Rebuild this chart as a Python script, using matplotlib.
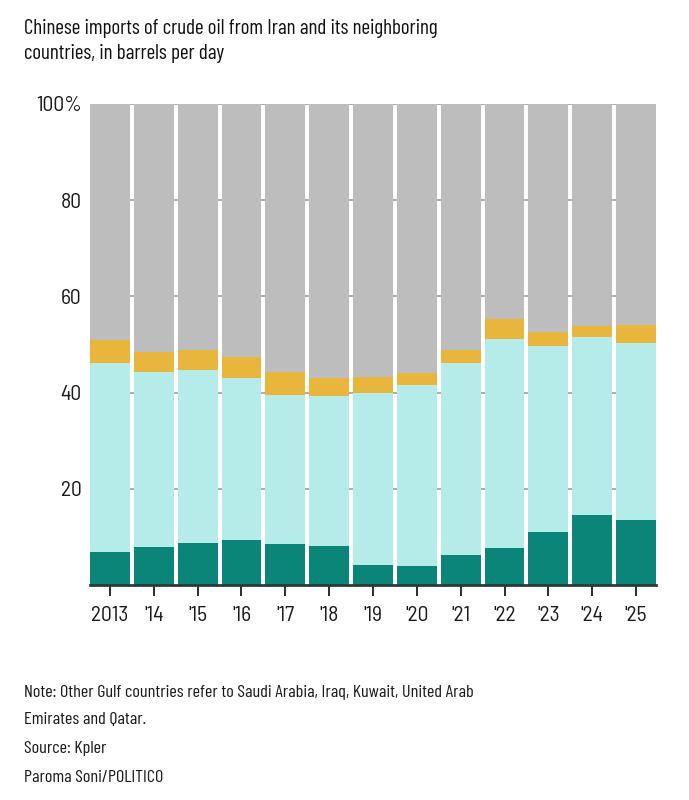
import numpy as np
import matplotlib
matplotlib.use('Agg')
import matplotlib.pyplot as plt

plt.rcParams['font.family'] = ['Barlow Semi Condensed', 'Roboto Condensed', 'DejaVu Sans']
cond = ['Barlow Condensed', 'Roboto Condensed', 'DejaVu Sans']

# shares in percent (cumulative tops converted to segments)
years = ['2013', "'14", "'15", "'16", "'17", "'18", "'19", "'20", "'21", "'22", "'23", "'24", "'25"]
iran = [6.8, 7.8, 8.7, 9.4, 8.6, 8.2, 4.2, 3.9, 6.3, 7.7, 11.1, 14.5, 13.6]
gulf_top = [46.2, 44.2, 44.6, 43.0, 39.5, 39.3, 39.9, 41.6, 46.1, 51.2, 49.6, 51.5, 50.3]
yellow_top = [50.9, 48.5, 48.9, 47.5, 44.3, 43.0, 43.2, 44.0, 48.9, 55.2, 52.7, 53.9, 54.1]

iran = np.array(iran)
gulf = np.array(gulf_top) - iran
yellow = np.array(yellow_top) - np.array(gulf_top)
rest = 100 - np.array(yellow_top)

fig = plt.figure(figsize=(6.89, 8.0), dpi=100)
ax = fig.add_axes([90 / 689, 1 - 585 / 800, (656 - 90) / 689, (585 - 104) / 800])

x = np.arange(len(years))
w = 0.91
ax.bar(x, iran, w, color='#0b8577', zorder=3)
ax.bar(x, gulf, w, bottom=iran, color='#b5ebe9', zorder=3)
ax.bar(x, yellow, w, bottom=iran + gulf, color='#e8b63c', zorder=3)
ax.bar(x, rest, w, bottom=iran + gulf + yellow, color='#bdbdbd', zorder=3)

ax.set_xlim(-w / 2, len(years) - 1 + w / 2)
ax.set_ylim(0, 100)
for v in [20, 40, 60, 80, 100]:
    ax.axhline(v, color='#a0a0a0', lw=1.2, zorder=1)

ax.set_yticks([0, 20, 40, 60, 80, 100])
ax.set_yticklabels(['', '20', '40', '60', '80', '100%'])
ax.set_xticks(x)
ax.set_xticklabels(years)
ax.tick_params(axis='y', length=0, pad=6, labelsize=15.5, colors='#1a1a1a')
ax.tick_params(axis='x', length=8, width=1.3, pad=7, labelsize=15.5, colors='#1a1a1a')

for s in ['top', 'right', 'left']:
    ax.spines[s].set_visible(False)
ax.spines['bottom'].set_color('#2a3a38')
ax.spines['bottom'].set_linewidth(2)
ax.spines['bottom'].set_zorder(4)

fig.text(24 / 689, 1 - 19 / 800, 'Chinese imports of crude oil from Iran and its neighboring\ncountries, in barrels per day',
         fontsize=15.2, va='top', ha='left', color='#111111', linespacing=1.42, family=cond)

notes = ['Note: Other Gulf countries refer to Saudi Arabia, Iraq, Kuwait, United Arab',
         'Emirates and Qatar.', 'Source: Kpler', 'Paroma Soni/POLITICO']
for i, t in enumerate(notes):
    yy = [693, 720, 748, 777][i]
    fig.text(24 / 689, 1 - yy / 800, t, fontsize=13.1, va='center', ha='left', color='#1a1a1a',
             family=cond)

fig.savefig('out.png', dpi=100)
